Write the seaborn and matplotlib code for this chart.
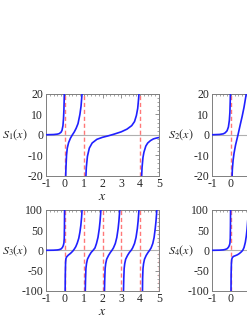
import numpy as np
import pandas as pd
import matplotlib
matplotlib.use("Agg")
import matplotlib.pyplot as plt
from matplotlib.ticker import AutoMinorLocator
import seaborn as sns

# ---------------- data ----------------
x_ticks = [-1, 0, 1, 2, 3, 4, 5]
ticks_top = [-20, -10, 0, 10, 20]
ticks_bot = [-100, -50, 0, 50, 100]

# S1(x): branches
s1_x = [
    [-1.0, -0.6, -0.4, -0.3, -0.2, -0.15, -0.1, -0.07, -0.05, -0.035, -0.025],
    [0.04, 0.06, 0.09, 0.13, 0.2, 0.3, 0.4, 0.5, 0.6, 0.7, 0.8, 0.86, 0.9, 0.93],
    [1.11, 1.14, 1.2, 1.3, 1.45, 1.7, 2.0, 2.3, 2.6, 3.0, 3.3, 3.55, 3.7, 3.8, 3.87, 3.92, 3.95],
    [4.07, 4.1, 4.15, 4.2, 4.3, 4.4, 4.55, 4.7, 4.85, 5.0],
]
s1_y = [
    [0.05, 0.15, 0.35, 0.6, 1.3, 2.2, 4.5, 8, 12, 17, 22],
    [-22, -16, -10, -6.5, -3.8, -1.6, 0, 1.4, 3.2, 5.5, 10, 14, 18.5, 22],
    [-22, -16, -10.5, -6.5, -4, -2.2, -1.2, -0.5, 0.3, 1.5, 2.8, 4.5, 6.5, 9.5, 13, 18, 22],
    [-22, -16, -11, -8.5, -5.5, -4, -2.8, -2, -1.6, -1.3],
]
s1_poles = [0, 1, 4]

# S2(x): branches (visible part)
s2_x = [
    [-1.0, -0.6, -0.4, -0.3, -0.2, -0.13, -0.08, -0.05, -0.03, -0.02],
    [0.06, 0.08, 0.12, 0.17, 0.25, 0.38, 0.5, 0.6, 0.7, 0.8, 0.86, 0.9],
]
s2_y = [
    [0.05, 0.2, 0.5, 1.0, 2.0, 3.8, 7, 11, 17, 22],
    [-22, -17, -12.5, -9, -5, 0, 5, 9, 13.5, 19, 23, 26],
]
s2_poles = [0]

# S3(x): branches
s3_x = [
    [-1.0, -0.6, -0.4, -0.3, -0.2, -0.13, -0.08, -0.05, -0.03, -0.02, -0.012],
    [0.015, 0.025, 0.04, 0.06, 0.1, 0.18, 0.3, 0.42, 0.5, 0.58, 0.66, 0.74, 0.8, 0.85, 0.89, 0.92],
    [1.08, 1.1, 1.12, 1.15, 1.2, 1.3, 1.4, 1.5, 1.6, 1.68, 1.76, 1.83, 1.87, 1.9, 1.93],
    [2.1, 2.12, 2.14, 2.17, 2.22, 2.32, 2.42, 2.5, 2.58, 2.68, 2.76, 2.83, 2.87, 2.9, 2.93],
    [3.11, 3.13, 3.15, 3.18, 3.23, 3.33, 3.43, 3.52, 3.6, 3.7, 3.78, 3.85, 3.89, 3.92, 3.95],
    [4.12, 4.13, 4.15, 4.18, 4.23, 4.32, 4.42, 4.5, 4.58, 4.67, 4.74, 4.8, 4.84, 4.87, 4.9],
]
s3_y = [
    [0.1, 0.4, 1.0, 1.8, 3.5, 7, 12, 18, 30, 60, 110],
    [-110, -60, -30, -20, -16, -12, -7.5, -2, 3, 9, 18, 30, 45, 62, 82, 105],
    [-110, -70, -45, -33, -22, -12.5, -5, 0, 6, 17, 32, 54, 72, 90, 110],
    [-110, -70, -45, -33, -22, -12.5, -5, 0, 6, 17, 32, 54, 72, 90, 110],
    [-110, -70, -45, -33, -22, -12.5, -5, 0, 6, 17, 32, 54, 72, 90, 110],
    [-110, -70, -45, -33, -22, -12.5, -5, 0, 6, 17, 32, 54, 72, 90, 110],
]
s3_poles = [0, 1, 2, 3, 4, 5]

# S4(x): branches (visible part)
s4_x = [
    [-1.0, -0.6, -0.4, -0.3, -0.2, -0.13, -0.08, -0.05, -0.03, -0.02, -0.012],
    [0.008, 0.015, 0.03, 0.05, 0.08, 0.14, 0.25, 0.35, 0.45, 0.55, 0.63, 0.7, 0.77, 0.82, 0.86, 0.9],
]
s4_y = [
    [0.1, 0.5, 1.2, 2.2, 4, 7.5, 12, 17, 30, 60, 110],
    [-110, -60, -32, -22, -18, -15, -13, -11, -8, -4, 0, 7, 20, 35, 52, 75],
]
s4_poles = [0]

labels = ["$S_1(x)$", "$S_2(x)$", "$S_3(x)$", "$S_4(x)$"]

# ---------------- style ----------------
sns.set_theme(style="white")
plt.rcParams["font.family"] = ["Liberation Serif", "DejaVu Serif"]
plt.rcParams["mathtext.fontset"] = "stix"
plt.rcParams["axes.unicode_minus"] = False

W, H = 247, 319
fig = plt.figure(figsize=(W / 100, H / 100), dpi=100)

def px_axes(left, top, right, bottom):
    return fig.add_axes([left / W, 1 - bottom / H, (right - left) / W, (bottom - top) / H])

panels = [
    (px_axes(46, 94, 159, 175.7), s1_x, s1_y, s1_poles, ticks_top, labels[0]),
    (px_axes(212, 94, 325, 175.7), s2_x, s2_y, s2_poles, ticks_top, labels[1]),
    (px_axes(46, 210, 159, 290.7), s3_x, s3_y, s3_poles, ticks_bot, labels[2]),
    (px_axes(212, 210, 325, 290.7), s4_x, s4_y, s4_poles, ticks_bot, labels[3]),
]

frame_col = "#7f7f7f"
for ax, xs, ys, poles, yt, lab in panels:
    ax.axhline(0, color="#b0b0b0", lw=0.8, zorder=1)
    for p in poles:
        ax.axvline(p, color="#ff7878", lw=1.0, ls=(0, (3, 2)), zorder=2)
    for bx, by in zip(xs, ys):
        df = pd.DataFrame({"x": bx, "y": by})
        sns.lineplot(data=df, x="x", y="y", ax=ax, sort=False, estimator=None,
                     color="#2020ff", lw=1.2, zorder=3)
    ax.set_xlim(-1, 5)
    ax.set_ylim(yt[0], yt[-1])
    ax.set_xticks(x_ticks)
    ax.set_yticks(yt)
    ax.xaxis.set_minor_locator(AutoMinorLocator(5))
    ax.yaxis.set_minor_locator(AutoMinorLocator(5))
    ax.tick_params(which="both", direction="in", top=True, right=True,
                   color=frame_col, labelsize=8.5, pad=2)
    ax.tick_params(which="major", length=3, width=0.6)
    ax.tick_params(which="minor", length=1.5, width=0.5)
    for s in ax.spines.values():
        s.set_color(frame_col)
        s.set_linewidth(0.7)
    ax.set_xlabel("$x$", fontsize=10, labelpad=0)
    ax.set_ylabel(lab, fontsize=8.8, rotation=0, ha="left", va="center")
    ax.yaxis.set_label_coords(-0.385, 0.5)

fig.savefig("out.png", dpi=100)
